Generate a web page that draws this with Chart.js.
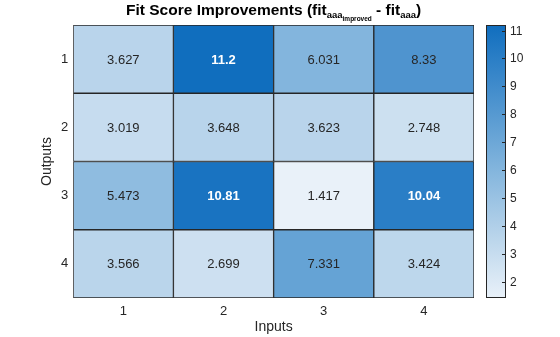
<!DOCTYPE html>
<html>
<head>
<meta charset="utf-8">
<script src="https://cdn.jsdelivr.net/npm/chart.js@4/dist/chart.umd.min.js"></script>
<style>
  html, body { margin: 0; padding: 0; background: #fff; }
  #wrap { width: 560px; height: 337px; position: relative; }
</style>
</head>
<body>
<div id="wrap"><canvas id="heat"></canvas></div>
<script>
// heatmap values, rows = outputs, columns = inputs
const inputs = ['1', '2', '3', '4'];
const outputs = ['1', '2', '3', '4'];
const row1 = [3.627, 11.2, 6.031, 8.33];
const row2 = [3.019, 3.648, 3.623, 2.748];
const row3 = [5.473, 10.81, 1.417, 10.04];
const row4 = [3.566, 2.699, 7.331, 3.424];
const rows = [row1, row2, row3, row4];
const colorbarTicks = [2, 3, 4, 5, 6, 7, 8, 9, 10, 11];

const FONT = "'Liberation Sans', Arial, Helvetica, sans-serif";
const INK = '#262626';

const all = rows.flat();
const cmin = Math.min(...all);
const cmax = Math.max(...all);

// light-to-dark blue colormap
const stops = [
  [0.00, [233, 241, 249]],
  [0.22, [186, 213, 235]],
  [0.47, [131, 181, 221]],
  [0.71, [78, 148, 207]],
  [0.88, [42, 126, 198]],
  [1.00, [16, 110, 190]]
];
function cmap(t) {
  t = Math.max(0, Math.min(1, t));
  for (let i = 1; i < stops.length; i++) {
    if (t <= stops[i][0]) {
      const [t0, c0] = stops[i - 1];
      const [t1, c1] = stops[i];
      const f = (t - t0) / (t1 - t0);
      const c = c0.map((v, k) => Math.round(v + (c1[k] - v) * f));
      return `rgb(${c[0]},${c[1]},${c[2]})`;
    }
  }
  const c = stops[stops.length - 1][1];
  return `rgb(${c[0]},${c[1]},${c[2]})`;
}
const colorOf = v => cmap((v - cmin) / (cmax - cmin));

const datasets = rows.map((vals, r) => ({
  label: outputs[r],
  data: vals.map(() => [r + 0.5, r + 1.5]),
  values: vals,
  backgroundColor: vals.map(colorOf),
  borderColor: INK,
  borderWidth: 1,
  borderSkipped: false,
  grouped: false,
  barPercentage: 1,
  categoryPercentage: 1
}));

// cell labels, title with subscripts, and colorbar
const heatExtras = {
  id: 'heatExtras',
  afterDatasetsDraw(chart) {
    const ctx = chart.ctx;
    ctx.save();
    ctx.textAlign = 'center';
    ctx.textBaseline = 'middle';
    chart.data.datasets.forEach((ds, di) => {
      const meta = chart.getDatasetMeta(di);
      meta.data.forEach((bar, i) => {
        const v = ds.values[i];
        const t = (v - cmin) / (cmax - cmin);
        const dark = t > 0.8;
        ctx.fillStyle = dark ? '#ffffff' : INK;
        ctx.font = (dark ? 'bold ' : '') + '13px ' + FONT;
        const cy = (bar.y + bar.base) / 2;
        ctx.fillText(String(v), bar.x, cy + 1);
      });
    });
    ctx.restore();
  },
  afterDraw(chart) {
    const ctx = chart.ctx;
    const area = chart.chartArea;
    ctx.save();

    // title
    const parts = [
      { s: 'Fit Score Improvements (fit', size: 15.5, dy: 0 },
      { s: 'aaa', size: 9.5, dy: 3 },
      { s: 'improved', size: 6.5, dy: 6.5 },
      { s: ' - fit', size: 15.5, dy: 0 },
      { s: 'aaa', size: 9.5, dy: 3 },
      { s: ')', size: 15.5, dy: 0 }
    ];
    let total = 0;
    parts.forEach(p => {
      ctx.font = 'bold ' + p.size + 'px ' + FONT;
      p.w = ctx.measureText(p.s).width;
      total += p.w;
    });
    let x = (area.left + area.right) / 2 - total / 2;
    const base = 14.5;
    ctx.fillStyle = '#000';
    ctx.textAlign = 'left';
    ctx.textBaseline = 'alphabetic';
    parts.forEach(p => {
      ctx.font = 'bold ' + p.size + 'px ' + FONT;
      ctx.fillText(p.s, x, base + p.dy);
      x += p.w;
    });

    // colorbar
    const bx = area.right + 12, bw = 20;
    const top = area.top, bot = area.bottom;
    const grad = ctx.createLinearGradient(0, bot, 0, top);
    stops.forEach(([t, c]) => grad.addColorStop(t, `rgb(${c[0]},${c[1]},${c[2]})`));
    ctx.fillStyle = grad;
    ctx.fillRect(bx, top, bw, bot - top);
    ctx.strokeStyle = INK;
    ctx.lineWidth = 1;
    ctx.strokeRect(bx + 0.5, top + 0.5, bw - 1, bot - top - 1);
    ctx.font = '12px ' + FONT;
    ctx.fillStyle = INK;
    ctx.textBaseline = 'middle';
    colorbarTicks.forEach(v => {
      const y = Math.round(bot - (v - cmin) / (cmax - cmin) * (bot - top)) + 0.5;
      ctx.beginPath();
      ctx.moveTo(bx + bw - 1, y);
      ctx.lineTo(bx + bw - 4, y);
      ctx.stroke();
      ctx.fillText(String(v), bx + bw + 4, y);
    });
    ctx.restore();
  }
};

new Chart(document.getElementById('heat'), {
  type: 'bar',
  data: { labels: inputs, datasets },
  options: {
    responsive: true,
    maintainAspectRatio: false,
    animation: false,
    layout: { padding: { top: 25, right: 86, left: 40, bottom: 3 } },
    plugins: {
      legend: { display: false },
      tooltip: { enabled: false }
    },
    scales: {
      x: {
        grid: { display: false, drawTicks: false },
        border: { display: false },
        ticks: { color: INK, font: { family: FONT, size: 13, lineHeight: 1 }, padding: 6.5 },
        title: { display: true, text: 'Inputs', color: INK, font: { family: FONT, size: 14, lineHeight: 1 }, padding: { top: -4, bottom: 0 } }
      },
      y: {
        type: 'linear',
        reverse: true,
        min: 0.5,
        max: 4.5,
        afterBuildTicks: s => { s.ticks = outputs.map((_, i) => ({ value: i + 1 })); },
        grid: { display: false, drawTicks: false },
        border: { display: false },
        ticks: { color: INK, font: { family: FONT, size: 13, lineHeight: 1 }, padding: 5, callback: v => outputs[v - 1] },
        title: { display: true, text: 'Outputs', color: INK, font: { family: FONT, size: 14, lineHeight: 1 }, padding: { top: 0, bottom: 2 } }
      }
    }
  },
  plugins: [heatExtras]
});
</script>
</body>
</html>
